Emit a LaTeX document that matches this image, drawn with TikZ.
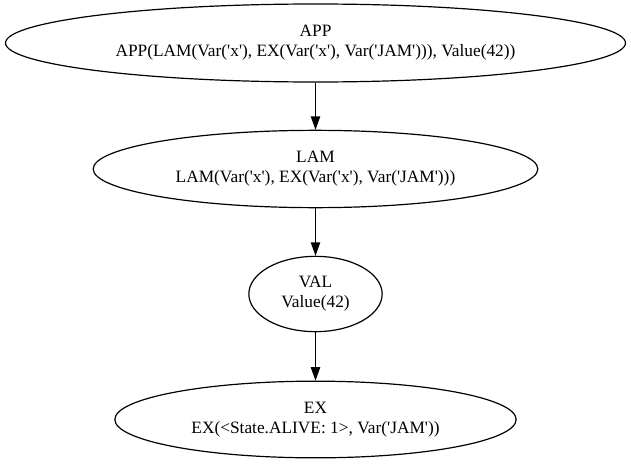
\documentclass[tikz,border=0pt]{standalone}
\usepackage{fontspec}
\setmainfont{Liberation Serif}[Ligatures=TeXOff]
\usetikzlibrary{shapes.geometric,arrows.meta}
\begin{document}
\begin{tikzpicture}[x=0.75pt,y=-0.75pt,
  gnode/.style={draw, ellipse, line width=0.9pt, inner sep=0pt, align=center,
    font=\fontsize{13}{15}\selectfont},
  garrow/.style={line width=0.9pt, -{Triangle[length=10pt,width=7pt]}}]
\useasboundingbox (0,0) rectangle (631,464);
\node[gnode, minimum width=465pt, minimum height=58.5pt] (app) at (315.5,43)
  {APP\\APP(LAM(Var('x'), EX(Var('x'), Var('JAM'))), Value(42))};
\node[gnode, minimum width=333.5pt, minimum height=58pt] (lam) at (315.5,169)
  {LAM\\LAM(Var('x'), EX(Var('x'), Var('JAM')))};
\node[gnode, minimum width=100pt, minimum height=56.5pt] (val) at (315.5,294)
  {VAL\\Value(42)};
\node[gnode, minimum width=301pt, minimum height=57.5pt] (ex) at (315.5,419.5)
  {EX\\EX(<State.ALIVE: 1>, Var('JAM'))};
\draw[garrow] (app) -- (lam);
\draw[garrow] (lam) -- (val);
\draw[garrow] (val) -- (ex);
\end{tikzpicture}
\end{document}
